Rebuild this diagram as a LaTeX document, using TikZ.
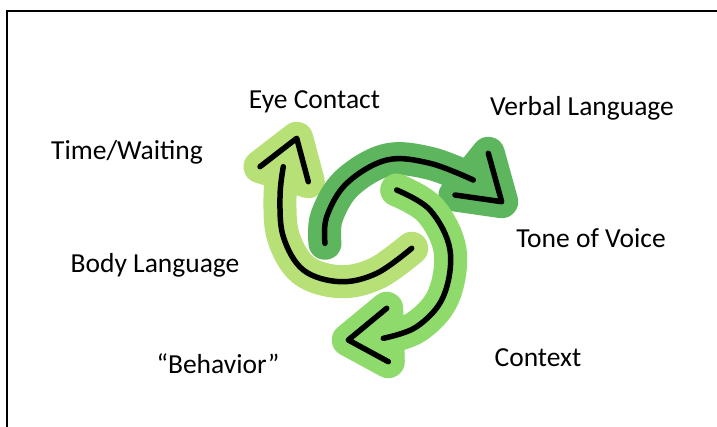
\documentclass[tikz,border=0pt]{standalone}
\usepackage{fontspec}
\setmainfont{Carlito}
\definecolor{gA}{RGB}{183,224,118}
\definecolor{gB}{RGB}{93,181,94}
\definecolor{gC}{RGB}{142,218,106}
\tikzset{
  lbl/.style={font=\fontsize{27.5}{30}\selectfont, anchor=base, inner sep=0pt},
  halo/.style={line width=33pt, line cap=round, line join=round},
  core/.style={black, line width=5.5pt, line cap=round, line join=round},
}
\begin{document}
\begin{tikzpicture}[x=1pt,y=-1pt]
\useasboundingbox (0,0) rectangle (717,427);
\fill[white] (0,0) rectangle (717,427);
% frame
\draw[line width=2pt] (7,427) -- (7,11) -- (717,11);

% arrow 1 (light yellow-green, up to Eye Contact)
\def\shaftA{plot[smooth, tension=0.6] coordinates {(411.7,248.3) (376.7,273.3) (340,281.7) (303.3,270) (283.3,236.7) (280,196.7) (283.3,166.7)}}
\def\headA{(260,166.7) -- (296.7,138.3) -- (308.3,181.7)}
% arrow 2 (darker green, to Verbal Language)
\def\shaftB{plot[smooth, tension=0.6] coordinates {(325,243.3) (326.7,216.7) (346.7,183.3) (386.7,160) (430,163.3) (473.3,180)}}
\def\headB{(488.3,153.3) -- (501.7,201.7) -- (455,195)}
% arrow 3 (medium green, to Behavior)
\def\shaftC{plot[smooth, tension=0.6] coordinates {(396.7,190) (430,210) (450,250) (443.3,296.7) (416.7,326.7) (383.3,338.3)}}
\def\headC{(386.7,308.3) -- (348.3,340) -- (388.3,361.7)}

\draw[halo, gA] \shaftA;
\draw[halo, gA, fill=gA] \headA -- cycle;
\draw[core] \shaftA;
\draw[core] \headA;

\draw[halo, gB] \shaftB;
\draw[halo, gB, fill=gB] \headB -- cycle;
\draw[core] \shaftB;
\draw[core] \headB;

\draw[halo, gC] \shaftC;
\draw[halo, gC, fill=gC] \headC -- cycle;
\draw[core] \shaftC;
\draw[core] \headC;

% labels
\node[lbl] (eye) at (314.5,109) {Eye Contact};
\node[lbl] (verbal) at (582,116) {Verbal Language};
\node[lbl] (time) at (127,160) {Time/Waiting};
\node[lbl] (tone) at (591,248) {Tone of Voice};
\node[lbl] (body) at (155,273) {Body Language};
\node[lbl] (context) at (538,366) {Context};
\node[lbl] (behav) at (218,373) {“Behavior”};
\end{tikzpicture}
\end{document}
